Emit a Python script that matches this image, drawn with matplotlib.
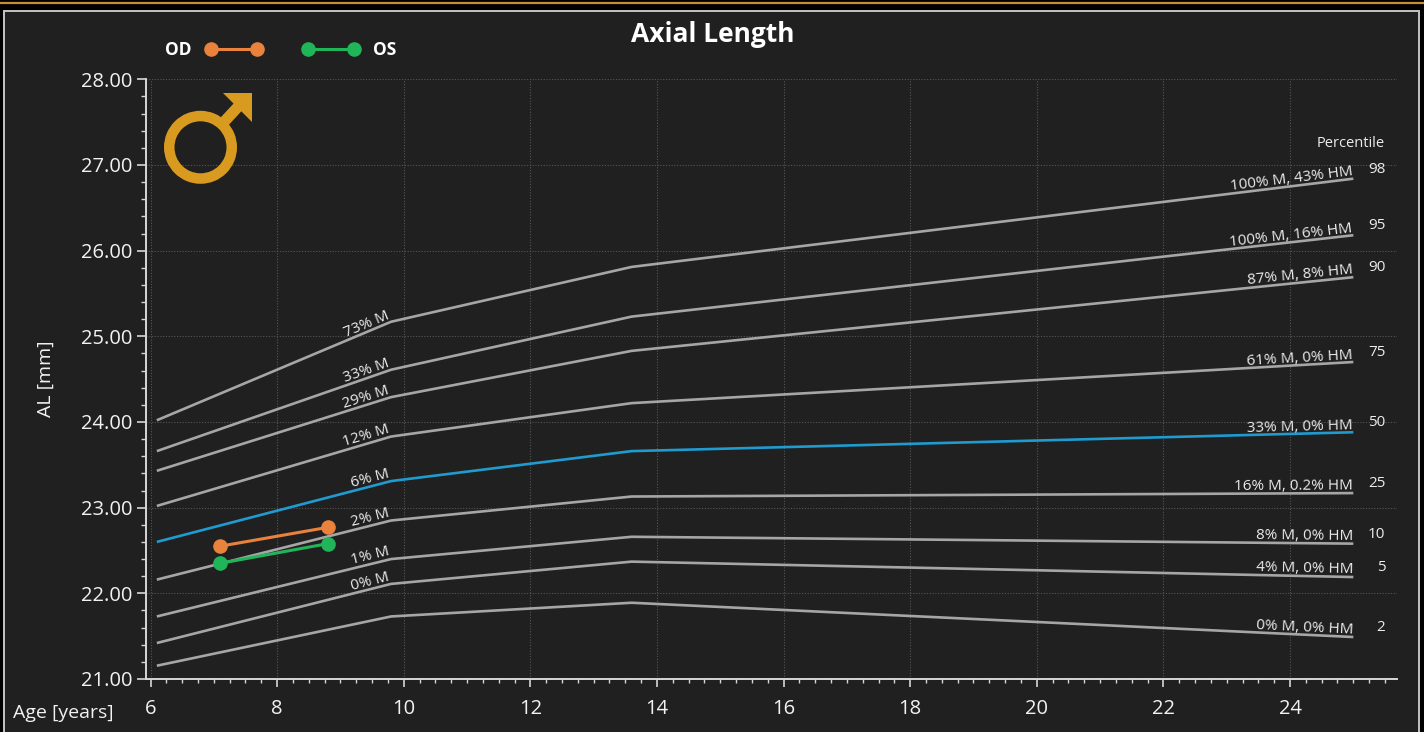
import numpy as np
import matplotlib
matplotlib.use('Agg')
import matplotlib.pyplot as plt
from matplotlib import transforms as mtransforms
from matplotlib.patches import Rectangle, Wedge, Polygon
from matplotlib.lines import Line2D
from matplotlib.ticker import MultipleLocator, FormatStrFormatter

plt.rcParams['font.family'] = ['Open Sans', 'DejaVu Sans']

# ---------------- data ----------------
ages = [6.1, 9.8, 13.6, 25.0]
p98 = [24.02, 25.17, 25.81, 26.84]
p95 = [23.66, 24.61, 25.23, 26.18]
p90 = [23.43, 24.29, 24.83, 25.69]
p75 = [23.02, 23.83, 24.22, 24.70]
p50 = [22.60, 23.31, 23.66, 23.88]
p25 = [22.16, 22.85, 23.13, 23.17]
p10 = [21.73, 22.40, 22.66, 22.58]
p05 = [21.42, 22.11, 22.37, 22.19]
p02 = [21.155, 21.73, 21.89, 21.49]
percentile_names = ['98', '95', '90', '75', '50', '25', '10', '5', '2']
right_labels = ['100% M, 43% HM', '100% M, 16% HM', '87% M, 8% HM', '61% M, 0% HM',
                '33% M, 0% HM', '16% M, 0.2% HM', '8% M, 0% HM', '4% M, 0% HM', '0% M, 0% HM']
left_labels = ['73% M', '33% M', '29% M', '12% M', '6% M', '2% M', '1% M', '0% M', '']

od_age = [7.1, 8.8]
od_al = [22.55, 22.77]
os_age = [7.1, 8.8]
os_al = [22.35, 22.58]

x_major = [6, 8, 10, 12, 14, 16, 18, 20, 22, 24]
y_major = [21, 22, 23, 24, 25, 26, 27, 28]

curves = [p98, p95, p90, p75, p50, p25, p10, p05, p02]

# ---------------- figure ----------------
W, H = 1424, 732
fig = plt.figure(figsize=(W / 100, H / 100), dpi=100, facecolor='black')
pix = mtransforms.Affine2D().scale(1 / W, -1 / H).translate(0, 1) + fig.transFigure

# background panel + borders
fig.patches.append(Rectangle((4, 11), 1415, 740, transform=pix, facecolor='#202020',
                             edgecolor='#c4c4c4', lw=1.4, zorder=-10))
fig.lines.append(Line2D([0, W], [3.2, 3.2], transform=pix, color='#c98a3c', lw=1.6, zorder=-9))

ax = fig.add_axes([145.7 / W, 1 - 679 / H, (1397 - 145.7) / W, 599.7 / H])
ax.set_facecolor('none')
ax.set_xlim(5.924, 25.69)
ax.set_ylim(21, 28)

tick_col = '#d6d6d6'
for s in ['top', 'right']:
    ax.spines[s].set_visible(False)
for s in ['left', 'bottom']:
    ax.spines[s].set_color(tick_col)
    ax.spines[s].set_linewidth(1.4)

ax.set_xticks(x_major)
ax.xaxis.set_minor_locator(MultipleLocator(0.25))
ax.set_yticks(y_major)
ax.yaxis.set_minor_locator(MultipleLocator(0.2))
ax.yaxis.set_major_formatter(FormatStrFormatter('%.2f'))
ax.tick_params(axis='x', which='major', length=5.5, width=1.2, color=tick_col,
               labelcolor='#f2f2f2', labelsize=14.5, pad=9)
ax.tick_params(axis='x', which='minor', length=3, width=1.0, color=tick_col)
ax.tick_params(axis='y', which='major', length=6.5, width=1.2, color=tick_col,
               labelcolor='#f2f2f2', labelsize=14.5, pad=3)
ax.tick_params(axis='y', which='minor', length=3.6, width=1.0, color=tick_col)

ax.grid(True, which='major', color='#565656', linestyle=(0, (1, 1.5)), lw=0.8)
ax.set_axisbelow(True)

ax.set_ylabel('AL [mm]', color='#f2f2f2', fontsize=14)
ax.yaxis.set_label_coords(-0.0725, 0.5)
ax.set_xlabel('Age [years]', color='#f2f2f2', fontsize=14)
ax.xaxis.set_label_coords((63.5 - 145.7) / 1251.3, (679 - 713) / 599.7)
ax.xaxis.label.set_va('center')

# percentile curves
for i, vals in enumerate(curves):
    col = '#1f9bd0' if percentile_names[i] == '50' else '#a6a6a6'
    ax.plot(ages, vals, color=col, lw=1.9, solid_capstyle='butt', zorder=3)

# patient data
os_line, = ax.plot(os_age, os_al, color='#20b558', lw=2.2, marker='o', ms=9.5, zorder=5)
od_line, = ax.plot(od_age, od_al, color='#e8823c', lw=2.2, marker='o', ms=9.5, zorder=6)


def seg_angle(x0, y0, x1, y1):
    p0 = ax.transData.transform((x0, y0))
    p1 = ax.transData.transform((x1, y1))
    return np.degrees(np.arctan2(p1[1] - p0[1], p1[0] - p0[0]))


def along_text(x, y, ang, text, off_px, fs):
    th = np.radians(ang)
    dx = -np.sin(th) * off_px * 0.72
    dy = np.cos(th) * off_px * 0.72
    tr = mtransforms.offset_copy(ax.transData, fig=fig, x=dx, y=dy, units='points')
    ax.text(x, y, text, transform=tr, rotation=ang, rotation_mode='anchor',
            ha='right', va='baseline', color='#ececec', fontsize=fs, zorder=7)


for i, vals in enumerate(curves):
    a_right = seg_angle(ages[2], vals[2], ages[3], vals[3])
    along_text(ages[3], vals[3], a_right, right_labels[i], 3.5, 11)
    if left_labels[i]:
        a_left = seg_angle(ages[0], vals[0], ages[1], vals[1])
        along_text(ages[1], vals[1], a_left, left_labels[i], 4.0, 11)
    ax.annotate(percentile_names[i], xy=(ages[3], vals[3]), xytext=(23, 6.8),
                textcoords='offset points', ha='right', va='center',
                color='#ececec', fontsize=11, zorder=7)

ax.text(1384.3, 143.3, 'Percentile', transform=pix, ha='right', va='center',
        color='#ececec', fontsize=10.5)

# title
fig.text(713 / W, 1 - 42 / H, 'Axial Length', ha='center', va='baseline',
         fontsize=19, fontweight='bold', color='white')

# legends
fs_leg = 12.5
hl = 56.5 / (fs_leg * 100 / 72)
leg1 = fig.legend([od_line], ['OD'], loc='center right', bbox_to_anchor=(262.3 / W, 1 - 50 / H),
                  frameon=False, markerfirst=False, numpoints=2, handlelength=hl,
                  handletextpad=0.8, borderpad=0, borderaxespad=0, fontsize=fs_leg)
leg2 = fig.legend([os_line], ['OS'], loc='center left', bbox_to_anchor=(303.1 / W, 1 - 50 / H),
                  frameon=False, markerfirst=True, numpoints=2, handlelength=hl,
                  handletextpad=0.8, borderpad=0, borderaxespad=0, fontsize=fs_leg)
for lg in (leg1, leg2):
    for t in lg.get_texts():
        t.set_color('white')
        t.set_fontweight('bold')

# male symbol
gold = '#d99b1f'
cx, cy = 200.5, 147.3
fig.patches.append(Wedge((cx, cy), 36.5, 0, 360, width=10.5, transform=pix,
                         facecolor=gold, edgecolor='none'))
hx, hy = 237.3, 107.6
u = np.array([hx - cx, hy - cy]); u /= np.hypot(*u)
n = np.array([-u[1], u[0]])
r1, r2 = 30.0, np.hypot(hx - cx, hy - cy) + 2
c = np.array([cx, cy])
shaft = [c + r1 * u + 5.5 * n, c + r2 * u + 5.5 * n, c + r2 * u - 5.5 * n, c + r1 * u - 5.5 * n]
fig.patches.append(Polygon(shaft, closed=True, transform=pix, facecolor=gold, edgecolor='none'))
fig.patches.append(Polygon([(222.5, 93.3), (251.5, 93.3), (251.5, 122.0)], closed=True,
                           transform=pix, facecolor=gold, edgecolor='none'))

fig.savefig('out.png', dpi=100, facecolor=fig.get_facecolor())
